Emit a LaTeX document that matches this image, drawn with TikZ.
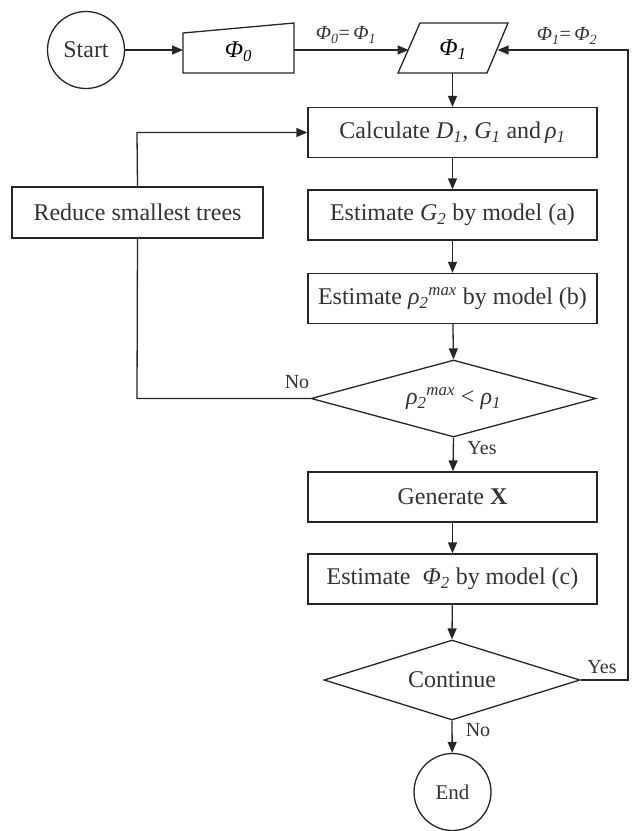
\documentclass[tikz,border=0pt]{standalone}
\usepackage{fontspec}
\setmainfont{Liberation Serif}
\usetikzlibrary{arrows.meta,shapes.geometric}
\newcommand\gv[2]{\textit{#1}\textsubscript{\itshape #2}}
\begin{document}
\begin{tikzpicture}[x=1pt,y=-1pt,
  ln/.style={line width=1.3pt,draw=black!85},
  arr/.style={ln,-{Triangle[length=11pt,width=9pt]}},
  box/.style={ln,rectangle,minimum width=289pt,minimum height=50pt,inner sep=0pt,font=\fontsize{24}{28}\selectfont,text=black!80},
  term/.style={ln,circle,minimum size=77pt,inner sep=0pt,text=black!80},
  dec/.style={ln,diamond,inner sep=0pt,font=\fontsize{24}{28}\selectfont,text=black!80},
  lbl/.style={inner sep=0pt,font=\fontsize{20}{24}\selectfont,text=black!80}]
\useasboundingbox (0,0) rectangle (636,831);
% start
\node[term,font=\fontsize{24}{28}\selectfont] (start) at (86,50) {Start};
% phi0 manual input
\draw[ln] (183,33) -- (294,23) -- (294,73) -- (183,73) -- cycle;
\node[inner sep=0pt,font=\fontsize{24}{28}\selectfont] (phi0) at (238.5,52) {\gv{Φ}{0}};
\coordinate (phi0w) at (183,50);
\coordinate (phi0e) at (294,50);
% phi1 parallelogram
\draw[ln] (398,73) -- (420,23) -- (508,23) -- (487,73) -- cycle;
\node[inner sep=0pt,font=\fontsize{24}{28}\selectfont] (phi1) at (453,50) {\gv{Φ}{1}};
\coordinate (phi1w) at (408.6,50);
\coordinate (phi1e) at (497.6,50);
\coordinate (phi1s) at (452.5,73);
% boxes
\node[box] (calc) at (452.5,132.5) {Calculate \gv{D}{1}, \gv{G}{1} and\,\gv{ρ}{1}};
\node[box] (g2) at (452.5,215) {Estimate \gv{G}{2} by model (a)};
\node[box] (rho) at (452.5,298.5) {Estimate \textit{ρ}\textsubscript{\itshape 2}\textsuperscript{\itshape max} by model (b)};
\node[dec,minimum width=285pt,minimum height=77pt,aspect=3.7] (d1) at (453.5,398.5) {\textit{ρ}\textsubscript{\itshape 2}\textsuperscript{\itshape max} < \gv{ρ}{1}};
\node[box] (gen) at (452.5,497) {Generate \textbf{X}};
\node[box] (phi2) at (452.5,579) {Estimate~ \gv{Φ}{2} by model (c)};
\node[dec,minimum width=256pt,minimum height=80pt,aspect=3.2] (cont) at (452,680) {Continue};
\node[term,font=\fontsize{21}{25}\selectfont] (end) at (452.5,792) {End};
\node[box,minimum width=251pt,minimum height=51pt] (red) at (137.5,212.5) {Reduce smallest trees};
% corner coordinates
\coordinate (fbA) at (628,680);
\coordinate (fbB) at (628,50);
\coordinate (nA) at (137,398.5);
\coordinate (nB) at (137,132.5);
% connectors
\draw[arr] (start) -- (phi0w);
\draw[arr] (phi0e) -- (phi1w);
\draw[arr] (phi1s) -- (calc.north);
\draw[arr] (calc) -- (g2);
\draw[arr] (g2) -- (rho);
\draw[arr] (rho) -- (d1.north);
\draw[arr] (d1.south) -- (gen);
\draw[arr] (gen) -- (phi2);
\draw[arr] (phi2) -- (cont.north);
\draw[arr] (cont.south) -- (end);
\draw[ln] (d1.west) -- (nA) -- (red.south);
\draw[arr] (red.north) -- (nB) -- (calc.west);
\draw[arr] (cont.east) -- (fbA) -- (fbB) -- (phi1e);
% labels
\node[lbl] (l01) at (346,35) {\gv{Φ}{0}=\,\gv{Φ}{1}};
\node[lbl] (l12) at (567,36) {\gv{Φ}{1}=\,\gv{Φ}{2}};
\node[lbl] (lno1) at (297,382) {No};
\node[lbl] (lyes1) at (482,448) {Yes};
\node[lbl] (lyes2) at (602,667) {Yes};
\node[lbl] (lno2) at (478,730) {No};
\end{tikzpicture}
\end{document}
